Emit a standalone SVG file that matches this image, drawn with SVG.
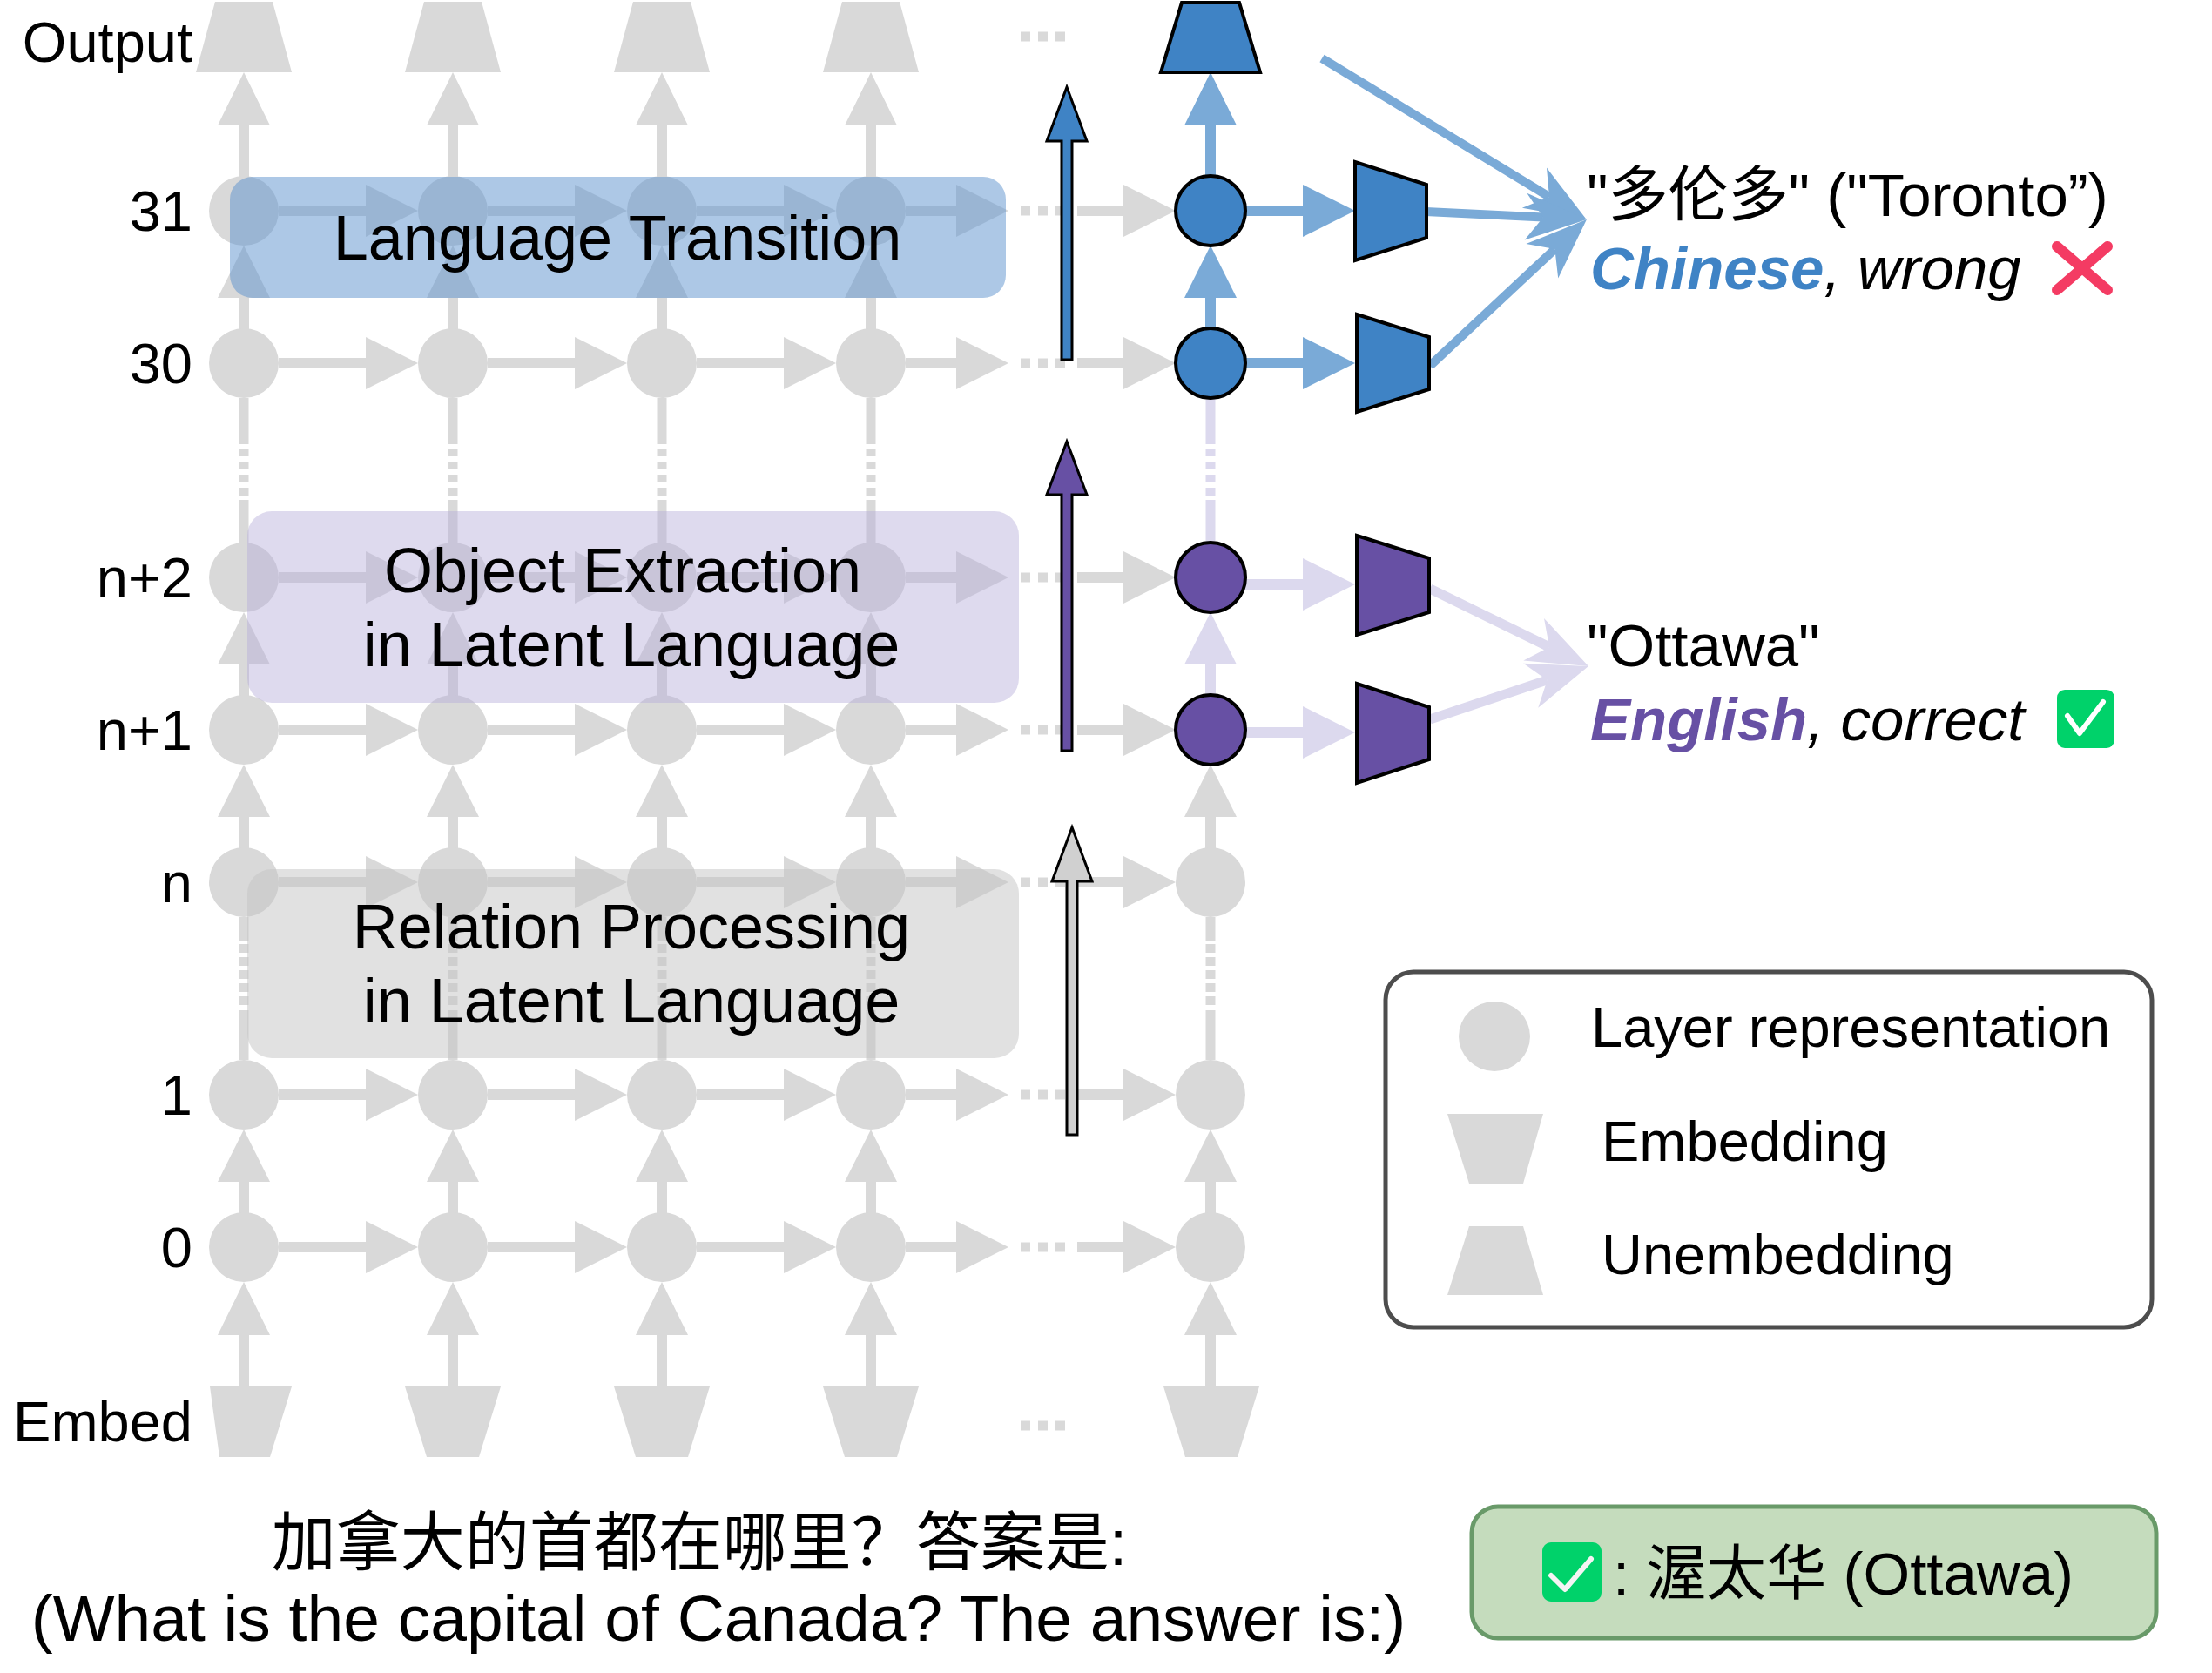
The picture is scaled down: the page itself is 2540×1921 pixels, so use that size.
<svg xmlns="http://www.w3.org/2000/svg" width="2540" height="1921" viewBox="0 0 2540 1921">
<style>
text{font-family:"Liberation Sans",Arial,"Noto Sans CJK SC",sans-serif;fill:#000}
.g{fill:#d9d9d9}
.lb{fill:#7aaad7}
.lv{fill:#dcd9ee}
.gl{stroke:#d9d9d9;stroke-width:11;fill:none}
.lvl{stroke:#dcd9ee;stroke-width:11;fill:none}
.dA{stroke-dasharray:53 5 9 6 9 6 9 6 9 5 300}
.dB{stroke-dasharray:27 4 10 5 10 5 10 5 10 5 10 6 300}
.nb{fill:#3f83c5;stroke:#000;stroke-width:4}
.np{fill:#6750a4;stroke:#000;stroke-width:4}
.lab{font-size:65px;text-anchor:end}
.band{font-size:72px;text-anchor:middle}
.leg{font-size:65px}
.ans{font-size:69px}
</style>
<defs>
<path id="ha" d="M0 -6H100V-30L160 0L100 30V6H0Z"/>
<path id="hb" d="M0 -6H58V-30L118 0L58 30V6H0Z"/>
<path id="hc" d="M0 -6H53V-30L113 0L53 30V6H0Z"/>
<path id="hd" d="M0 -6H66V-30L126 0L66 30V6H0Z"/>
<path id="vs" d="M-6 96V60H-30L0 0L30 60H6V96Z"/>
<path id="vl" d="M-6 121V61H-30L0 0L30 61H6V121Z"/>
<g id="dots"><rect x="0" y="-5.5" width="11" height="11"/><rect x="20" y="-5.5" width="11" height="11"/><rect x="40" y="-5.5" width="11" height="11"/></g>
<circle id="nd" r="40"/>
<path id="unemb" d="M-33 2H33L55 83H-55Z"/>
<path id="emb" d="M-55 1592H55L30 1673H-30Z"/>
<marker id="mb" viewBox="-72 -30 74 60" refX="-50" refY="0" markerWidth="74" markerHeight="60" markerUnits="userSpaceOnUse" orient="auto"><path d="M0 0L-70 -27L-50 0L-70 27Z" fill="#7aaad7"/></marker>
<marker id="ml" viewBox="-72 -30 74 60" refX="-50" refY="0" markerWidth="74" markerHeight="60" markerUnits="userSpaceOnUse" orient="auto"><path d="M0 0L-70 -27L-50 0L-70 27Z" fill="#dcd9ee"/></marker>
</defs>
<rect width="2540" height="1921" fill="#fff"/>

<g id="connectors">
<!-- horizontal grid arrows -->
<g class="g">
<use href="#ha" x="320" y="242"/><use href="#ha" x="560" y="242"/><use href="#ha" x="800" y="242"/><use href="#hb" x="1040" y="242"/><use href="#dots" x="1172" y="242"/><use href="#hc" x="1237" y="242"/>
<use href="#ha" x="320" y="417"/><use href="#ha" x="560" y="417"/><use href="#ha" x="800" y="417"/><use href="#hb" x="1040" y="417"/><use href="#dots" x="1172" y="417"/><use href="#hc" x="1237" y="417"/>
<use href="#ha" x="320" y="663"/><use href="#ha" x="560" y="663"/><use href="#ha" x="800" y="663"/><use href="#hb" x="1040" y="663"/><use href="#dots" x="1172" y="663"/><use href="#hc" x="1237" y="663"/>
<use href="#ha" x="320" y="838"/><use href="#ha" x="560" y="838"/><use href="#ha" x="800" y="838"/><use href="#hb" x="1040" y="838"/><use href="#dots" x="1172" y="838"/><use href="#hc" x="1237" y="838"/>
<use href="#ha" x="320" y="1013"/><use href="#ha" x="560" y="1013"/><use href="#ha" x="800" y="1013"/><use href="#hb" x="1040" y="1013"/><use href="#dots" x="1172" y="1013"/><use href="#hc" x="1237" y="1013"/>
<use href="#ha" x="320" y="1257"/><use href="#ha" x="560" y="1257"/><use href="#ha" x="800" y="1257"/><use href="#hb" x="1040" y="1257"/><use href="#dots" x="1172" y="1257"/><use href="#hc" x="1237" y="1257"/>
<use href="#ha" x="320" y="1432"/><use href="#ha" x="560" y="1432"/><use href="#ha" x="800" y="1432"/><use href="#hb" x="1040" y="1432"/><use href="#dots" x="1172" y="1432"/><use href="#hc" x="1237" y="1432"/>
<use href="#dots" x="1172" y="42"/><use href="#dots" x="1172" y="1637"/>
<!-- vertical grid arrows, columns 1-4 -->
<use href="#vl" x="280" y="83"/><use href="#vl" x="520" y="83"/><use href="#vl" x="760" y="83"/><use href="#vl" x="1000" y="83"/>
<use href="#vs" x="280" y="282"/><use href="#vs" x="520" y="282"/><use href="#vs" x="760" y="282"/><use href="#vs" x="1000" y="282"/>
<use href="#vs" x="280" y="703"/><use href="#vs" x="520" y="703"/><use href="#vs" x="760" y="703"/><use href="#vs" x="1000" y="703"/>
<use href="#vs" x="280" y="878"/><use href="#vs" x="520" y="878"/><use href="#vs" x="760" y="878"/><use href="#vs" x="1000" y="878"/><use href="#vs" x="1390" y="878"/>
<use href="#vs" x="280" y="1297"/><use href="#vs" x="520" y="1297"/><use href="#vs" x="760" y="1297"/><use href="#vs" x="1000" y="1297"/><use href="#vs" x="1390" y="1297"/>
<use href="#vl" x="280" y="1472"/><use href="#vl" x="520" y="1472"/><use href="#vl" x="760" y="1472"/><use href="#vl" x="1000" y="1472"/><use href="#vl" x="1390" y="1472"/>
</g>
<g class="gl dA">
<line x1="280" y1="457" x2="280" y2="623"/><line x1="520" y1="457" x2="520" y2="623"/><line x1="760" y1="457" x2="760" y2="623"/><line x1="1000" y1="457" x2="1000" y2="623"/>
</g>
<g class="gl dB">
<line x1="280" y1="1053" x2="280" y2="1217"/><line x1="520" y1="1053" x2="520" y2="1217"/><line x1="760" y1="1053" x2="760" y2="1217"/><line x1="1000" y1="1053" x2="1000" y2="1217"/><line x1="1390" y1="1053" x2="1390" y2="1217"/>
</g>
<!-- right column colored connectors -->
<g class="lb">
<use href="#vl" x="1390" y="83"/><use href="#vs" x="1390" y="282"/>
<use href="#hd" x="1430" y="242"/><use href="#hd" x="1430" y="417"/>
</g>
<g class="lv">
<use href="#vs" x="1390" y="703"/>
<use href="#hd" x="1430" y="671"/><use href="#hd" x="1430" y="841"/>
</g>
<line class="lvl dA" x1="1390" y1="457" x2="1390" y2="623"/>
<!-- converging arrows -->
<g stroke="#7aaad7" stroke-width="10" fill="none">
<line x1="1518" y1="67" x2="1779" y2="226" marker-end="url(#mb)"/>
<line x1="1637" y1="243" x2="1772" y2="249.6" marker-end="url(#mb)"/>
<line x1="1642" y1="420" x2="1785.4" y2="286.1" marker-end="url(#mb)"/>
</g>
<g stroke="#dcd9ee" stroke-width="11" fill="none">
<line x1="1642" y1="676" x2="1779.1" y2="743" marker-end="url(#ml)"/>
<line x1="1642" y1="826" x2="1776.6" y2="780.9" marker-end="url(#ml)"/>
</g>
</g>

<g id="grid-nodes" class="g">
<g id="out-1"><use href="#unemb" x="280"/></g>
<g id="out-2"><use href="#unemb" x="520"/></g>
<g id="out-3"><use href="#unemb" x="760"/></g>
<g id="out-4"><use href="#unemb" x="1000"/></g>
<g id="n31-1"><use href="#nd" x="280" y="242"/></g><g id="n31-2"><use href="#nd" x="520" y="242"/></g><g id="n31-3"><use href="#nd" x="760" y="242"/></g><g id="n31-4"><use href="#nd" x="1000" y="242"/></g>
<g id="n30-1"><use href="#nd" x="280" y="417"/></g><g id="n30-2"><use href="#nd" x="520" y="417"/></g><g id="n30-3"><use href="#nd" x="760" y="417"/></g><g id="n30-4"><use href="#nd" x="1000" y="417"/></g>
<g id="nn2-1"><use href="#nd" x="280" y="663"/></g><g id="nn2-2"><use href="#nd" x="520" y="663"/></g><g id="nn2-3"><use href="#nd" x="760" y="663"/></g><g id="nn2-4"><use href="#nd" x="1000" y="663"/></g>
<g id="nn1-1"><use href="#nd" x="280" y="838"/></g><g id="nn1-2"><use href="#nd" x="520" y="838"/></g><g id="nn1-3"><use href="#nd" x="760" y="838"/></g><g id="nn1-4"><use href="#nd" x="1000" y="838"/></g>
<g id="nn-1"><use href="#nd" x="280" y="1013"/></g><g id="nn-2"><use href="#nd" x="520" y="1013"/></g><g id="nn-3"><use href="#nd" x="760" y="1013"/></g><g id="nn-4"><use href="#nd" x="1000" y="1013"/></g><g id="nn-5"><use href="#nd" x="1390" y="1013"/></g>
<g id="n1-1"><use href="#nd" x="280" y="1257"/></g><g id="n1-2"><use href="#nd" x="520" y="1257"/></g><g id="n1-3"><use href="#nd" x="760" y="1257"/></g><g id="n1-4"><use href="#nd" x="1000" y="1257"/></g><g id="n1-5"><use href="#nd" x="1390" y="1257"/></g>
<g id="n0-1"><use href="#nd" x="280" y="1432"/></g><g id="n0-2"><use href="#nd" x="520" y="1432"/></g><g id="n0-3"><use href="#nd" x="760" y="1432"/></g><g id="n0-4"><use href="#nd" x="1000" y="1432"/></g><g id="n0-5"><use href="#nd" x="1390" y="1432"/></g>
<g id="emb-1"><path d="M241 1592H335L310 1673H252Z"/></g>
<g id="emb-2"><use href="#emb" x="520"/></g>
<g id="emb-3"><use href="#emb" x="760"/></g>
<g id="emb-4"><use href="#emb" x="1000"/></g>
<g id="emb-5"><use href="#emb" x="1391"/></g>
</g>

<g id="out-5"><path d="M1357 3H1423L1447 83H1333Z" class="nb"/></g>
<g id="n31-5"><circle cx="1390" cy="242" r="40" class="nb"/></g>
<g id="n30-5"><circle cx="1390" cy="417" r="40" class="nb"/></g>
<g id="nn2-5"><circle cx="1390" cy="663" r="40" class="np"/></g>
<g id="nn1-5"><circle cx="1390" cy="838" r="40" class="np"/></g>
<g id="dec-31"><path d="M1556 186L1638 212V273L1556 299Z" class="nb"/></g>
<g id="dec-30"><path d="M1558 361L1641 387V447L1558 473Z" class="nb"/></g>
<g id="dec-n2"><path d="M1558 615L1641 641V703L1558 729Z" class="np"/></g>
<g id="dec-n1"><path d="M1558 785L1641 812V872L1558 899Z" class="np"/></g>

<g id="band-transition"><rect x="264" y="203" width="891" height="139" rx="26" fill="#5b91cd" fill-opacity="0.5"/><text class="band" x="709" y="298">Language Transition</text></g>
<g id="band-object"><rect x="284" y="587" width="886" height="220" rx="28" fill="#b6adda" fill-opacity="0.45"/><text class="band" x="715" y="680">Object Extraction</text><text class="band" x="725" y="765">in Latent Language</text></g>
<g id="band-relation"><rect x="284" y="998" width="886" height="217" rx="28" fill="#c4c4c4" fill-opacity="0.5"/><text class="band" x="725" y="1089">Relation Processing</text><text class="band" x="725" y="1174">in Latent Language</text></g>

<g id="arrow-blue"><path d="M1219 413V162H1202L1225 100L1248 162H1231V413Z" fill="#3f83c5" stroke="#000" stroke-width="3"/></g>
<g id="arrow-purple"><path d="M1219 862V568H1202L1225 507L1248 568H1231V862Z" fill="#6750a4" stroke="#000" stroke-width="3"/></g>
<g id="arrow-grey"><path d="M1225 1303V1012H1208L1231 950L1254 1012H1237V1303Z" fill="#d0d0d0" stroke="#000" stroke-width="3"/></g>

<g id="row-labels">
<text class="lab" x="221" y="71">Output</text>
<text class="lab" x="221" y="265">31</text>
<text class="lab" x="221" y="440">30</text>
<text class="lab" x="221" y="686">n+2</text>
<text class="lab" x="221" y="861">n+1</text>
<text class="lab" x="221" y="1036">n</text>
<text class="lab" x="221" y="1280">1</text>
<text class="lab" x="221" y="1455">0</text>
<text class="lab" x="221" y="1655">Embed</text>
</g>

<g id="result-chinese">
<text class="ans" x="1822" y="248">"多伦多" ("Toronto”)</text>
<text class="ans" x="1826" y="332" font-style="italic"><tspan fill="#3f83c5" font-weight="bold">Chinese</tspan>, wrong</text>
<path d="M2362 283L2420 333M2420 283L2362 333" stroke="#f43b63" stroke-width="12" stroke-linecap="round"/>
</g>
<g id="result-english">
<text class="ans" x="1822" y="765">"Ottawa"</text>
<text class="ans" x="1826" y="850" font-style="italic"><tspan fill="#6750a4" font-weight="bold">English</tspan>, correct</text>
<rect x="2362" y="792" width="66" height="67" rx="9" fill="#00d26a"/>
<path d="M2374 822L2388 842L2415 806" fill="none" stroke="#fff" stroke-width="6" stroke-linecap="round" stroke-linejoin="round"/>
</g>

<g id="legend">
<rect x="1591" y="1116" width="880" height="408" rx="32" fill="#fff" stroke="#4d4d4d" stroke-width="5"/>
<ellipse cx="1716" cy="1190" rx="41" ry="40" class="g"/>
<path d="M1662 1279H1772L1749 1359H1687Z" class="g"/>
<path d="M1687 1408H1749L1772 1487H1662Z" class="g"/>
<text class="leg" x="1827" y="1202">Layer representation</text>
<text class="leg" x="1839" y="1333">Embedding</text>
<text class="leg" x="1839" y="1463">Unembedding</text>
</g>

<g id="question">
<text x="803" y="1797" font-size="74" text-anchor="middle">加拿大的首都在哪里？答案是:</text>
<text x="825" y="1884" font-size="75" text-anchor="middle">(What is the capital of Canada? The answer is:)</text>
</g>

<g id="answer">
<rect x="1690" y="1730" width="786" height="151" rx="30" fill="#c5dcbd" stroke="#699a69" stroke-width="5"/>
<rect x="1771" y="1771" width="68" height="68" rx="10" fill="#00d26a"/>
<path d="M1781 1809L1797 1825L1827 1790" fill="none" stroke="#f4f4f4" stroke-width="6" stroke-linecap="round" stroke-linejoin="round"/>
<text class="ans" x="1852" y="1831">: 渥太华 (Ottawa)</text>
</g>
</svg>
